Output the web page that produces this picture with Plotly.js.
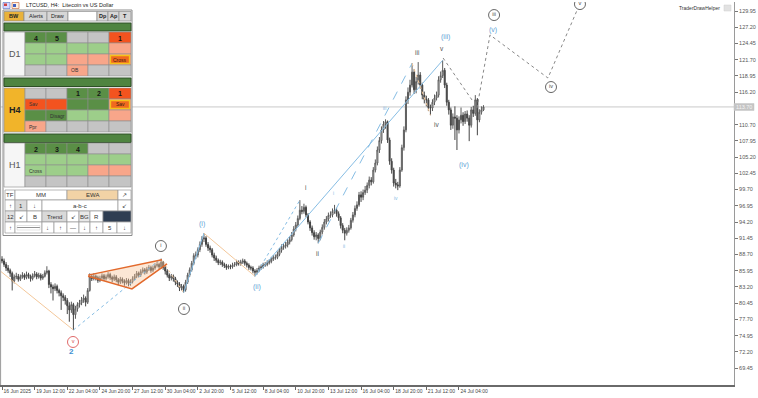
<!DOCTYPE html>
<html><head><meta charset="utf-8">
<script src="https://cdn.plot.ly/plotly-3.0.1.min.js"></script>
<style>html,body{margin:0;padding:0;background:#fff;overflow:hidden}#chart{width:758px;height:398px}</style>
</head><body><div id="chart"></div>
<script>
// ---------- DATA ----------
const firstOpen = 87.9;
const closes = [
87.6,87.0,86.4,86.0,85.5,84.2,84.9,85.0,84.5,84.9,
85.2,84.8,85.3,85.0,84.6,85.1,85.4,84.9,85.2,84.7,
85.0,85.6,85.9,83.6,83.2,82.9,83.3,82.6,82.2,81.7,
81.4,80.9,80.0,79.3,80.2,78.5,79.5,80.2,80.5,81.0,
81.3,80.6,82.6,85.0,84.6,85.0,84.8,84.3,84.7,85.1,
84.6,84.9,85.3,84.8,84.5,84.9,84.4,84.0,84.5,84.2,
83.9,84.3,83.8,84.1,84.6,85.0,85.5,85.2,85.8,86.1,
85.7,86.2,86.5,86.0,86.4,86.8,87.0,86.6,87.4,86.5,
85.9,85.2,84.7,85.0,84.6,84.0,83.7,83.0,83.3,82.7,
84.0,85.2,86.1,87.2,88.5,88.6,89.5,90.4,91.3,91.5,
90.4,89.8,89.5,88.6,88.1,87.7,87.3,87.4,87.0,86.8,
86.5,86.7,86.6,86.9,87.0,87.4,87.1,87.4,87.6,87.2,
86.9,86.5,86.4,85.9,85.7,86.0,86.4,86.6,86.9,87.0,
87.3,87.5,87.9,88.2,88.2,88.7,89.4,89.9,90.1,90.3,
90.8,91.2,92.0,93.0,93.7,94.8,96.2,96.0,96.7,95.4,
94.2,93.2,92.4,91.7,92.0,91.4,92.5,93.3,94.2,94.7,
95.3,95.4,96.0,96.2,95.6,94.9,93.6,92.8,92.3,92.8,
93.2,94.5,95.4,96.5,97.1,98.8,98.4,99.2,99.6,100.4,
101.3,101.0,103.0,104.2,106.4,108.0,109.8,110.8,111.2,108.1,
104.5,103.0,100.8,100.5,100.3,103.0,106.8,109.8,114.9,116.2,
117.4,119.6,116.6,118.0,119.1,117.4,115.7,115.0,114.9,113.6,
113.5,114.5,115.2,115.7,118.3,119.0,119.9,117.4,114.5,113.2,
110.6,112.0,111.8,109.8,111.5,112.3,111.2,112.5,111.8,110.6,
113.2,112.6,114.9,111.5,112.8,113.2,113.7];
const highs = [
88.4,88.0,87.4,86.9,86.3,85.8,85.3,85.6,85.4,85.3,
85.7,85.5,85.8,85.6,85.3,85.5,85.9,85.7,85.6,85.5,
85.4,86.0,86.7,86.1,84.0,83.6,83.8,83.6,82.9,82.6,
82.1,81.8,81.3,80.6,80.7,80.5,80.0,80.6,81.0,81.5,
81.9,81.6,83.0,85.5,85.4,85.5,85.3,85.1,85.1,85.5,
85.4,85.3,85.7,85.6,85.1,85.3,85.2,84.7,84.9,84.8,
84.5,84.7,84.6,84.5,85.0,85.4,85.9,85.8,86.2,86.5,
86.4,86.6,86.9,86.8,86.8,87.2,87.5,87.3,88.0,87.6,
86.8,86.2,85.5,85.4,85.3,84.9,84.3,84.0,83.7,83.6,
84.4,85.6,86.5,87.6,88.9,89.2,89.9,90.9,91.8,92.3,
91.8,90.8,90.2,89.8,89.0,88.5,88.0,87.8,87.7,87.3,
87.1,87.0,87.0,87.3,87.4,87.8,87.7,87.8,88.0,87.9,
87.5,87.2,86.8,86.7,86.2,86.4,86.8,87.0,87.3,87.4,
87.7,87.9,88.3,88.6,88.7,89.2,89.8,90.4,90.6,90.8,
91.3,91.7,92.5,93.5,94.2,95.3,97.9,96.9,97.3,97.0,
95.7,94.5,93.6,92.8,92.5,92.3,92.9,93.8,94.7,95.2,
95.8,96.0,96.5,97.1,96.6,96.0,95.2,94.0,93.2,93.3,
93.7,94.9,95.9,97.0,97.7,99.3,99.4,99.7,100.3,100.9,
101.9,101.8,103.5,104.8,107.0,108.6,110.4,111.3,111.6,111.4,
108.5,105.0,103.4,101.5,101.0,103.5,107.3,110.4,115.5,117.0,
118.3,121.1,120.1,118.8,121.3,119.6,117.8,116.3,115.6,115.2,
114.1,115.0,115.8,116.3,118.9,119.7,121.6,120.3,117.8,114.9,
113.6,112.6,113.8,112.3,112.1,113.6,112.8,113.0,113.1,112.3,
113.7,113.9,115.7,115.2,113.3,113.8,114.0];
const lows = [
87.2,86.6,85.9,85.6,84.9,82.6,83.8,84.5,84.1,84.2,
84.6,84.4,84.5,84.6,84.1,84.3,84.8,84.5,84.6,84.3,
84.4,84.8,85.3,83.0,82.1,80.9,82.5,82.1,81.6,79.3,
80.8,80.2,78.6,77.3,78.8,75.9,77.8,79.0,79.7,80.1,
80.5,79.9,80.3,82.4,84.2,84.3,84.3,83.9,84.0,84.4,
84.2,84.3,84.6,84.4,84.0,84.2,84.0,83.5,83.7,83.8,
83.4,83.6,83.3,83.4,83.8,84.3,84.7,84.8,84.9,85.5,
85.3,85.4,85.9,85.6,85.7,86.1,86.5,86.2,86.3,86.1,
85.3,84.8,84.2,84.3,84.1,83.5,83.2,82.5,82.6,82.2,
82.4,83.7,84.9,85.8,86.9,87.9,88.2,89.1,90.0,90.8,
90.0,89.3,89.0,88.2,87.6,87.3,86.9,86.9,86.6,86.4,
86.1,86.2,86.2,86.3,86.6,86.7,86.8,86.8,87.1,86.8,
86.5,86.1,86.0,85.5,85.0,85.3,85.7,86.1,86.3,86.6,
86.7,87.0,87.2,87.6,87.8,87.9,88.4,89.0,89.5,89.7,
89.9,90.4,90.9,91.7,92.6,93.4,94.5,95.5,95.6,95.0,
93.8,92.7,91.9,91.2,91.1,90.6,91.1,92.1,92.9,93.8,
94.3,94.9,95.0,95.6,95.1,94.4,93.1,92.3,91.1,91.9,
92.4,92.9,94.1,95.0,96.1,96.8,97.6,97.9,98.8,99.1,
99.9,100.4,100.7,102.6,103.8,105.9,107.5,109.3,110.0,107.6,
103.9,102.4,100.2,99.9,99.6,100.0,102.7,106.3,109.4,114.2,
115.6,117.0,115.9,116.0,117.5,116.8,115.0,114.3,113.8,113.0,
112.3,113.0,114.0,114.8,115.3,117.8,118.6,116.9,113.9,112.4,
109.8,110.0,108.1,106.4,109.2,110.9,110.5,110.8,111.2,107.9,
110.2,112.0,112.2,108.9,111.1,112.4,113.0];

const timeTickBars = [0,16,32,48,64,80,96,112,128,144,160,176,192,208,224];
const timeTickLabels = ["16 Jun 2025","19 Jun 12:00","22 Jun 04:00","24 Jun 20:00","27 Jun 12:00","30 Jun 04:00","2 Jul 20:00","5 Jul 12:00","8 Jul 04:00","10 Jul 20:00","13 Jul 12:00","16 Jul 04:00","18 Jul 20:00","21 Jul 12:00","24 Jul 04:00"];
const priceTicks = [69.45,72.20,74.95,77.70,80.45,83.20,85.95,88.70,91.45,94.20,96.95,99.70,102.45,105.20,107.95,110.70,113.45,116.20,118.95,121.70,124.45,127.20,129.95];

// wave labels
const blueWaveText = ["(i)","(ii)","(iii)","(iv)","(v)"];
const blueWaveBar = [98.0,125.0,217.2,226.5,240.7];
const blueWavePrice = [93.86,83.19,125.54,103.85,126.73];
const grayWaveText = ["i","ii","iii","iv","v"];
const grayWaveBar = [149.0,154.4,203.4,213.2,215.7];
const grayWavePrice = [100.13,88.78,123.0,110.8,123.68];
const smallWaveText = ["i","ii","iii","iv"];
const smallWaveBar = [162.7,167.6,187.7,193.1];
const smallWavePrice = [99.11,90.13,113.51,98.26];
const circleText = ["i","ii","iii","iv","v"];
const circleBar = [77.9,89.2,241.2,269.1,283.3];
const circlePrice = [90.13,79.46,129.27,117.07,131.13];
const redCircleBar = [34.8];
const redCirclePrice = [73.87];
const cycleNumberBar = [34.3];
const cycleNumberPrice = [72.18];

// drawn lines (bar index, price)
const startLegBars = [-0.5,35], startLegPrices = [85.8,75.9];
const wave5DotBars = [35,78], wave5DotPrices = [75.9,88.0];
const wedgeTopBars = [42.2,78.4], wedgeTopPrices = [85.2,87.8];
const wedgeBotBars = [42.2,63.7,80.9], wedgeBotPrices = [85.0,82.85,87.1];
const wedgeFillBars = [42.2,78.4,80.9,63.7,42.2], wedgeFillPrices = [85.2,87.8,87.1,82.85,85.0];
const wave2DotBars = [80,89], wave2DotPrices = [86.9,82.2];
const waveIBars = [89,99], waveIPrices = [82.2,92.3];
const waveIIBars = [99,124], waveIIPrices = [92.3,85.0];
const channelBars = [124,216], channelPrices = [85.0,121.6];
const subIDotBars = [124,146], subIDotPrices = [85.0,97.9];
const subIIIDashBars = [155,201], subIIIDashPrices = [90.6,121.1];
const subIVDotBars = [201,210], subIVDotPrices = [121.1,112.3];
const waveIVDashBars = [216.2,230.4], waveIVDashPrices = [121.99,114.87];
const projBars = [232.8,239.2,267.6,285.5], projPrices = [113.5,125.9,118.6,133.0];

// ---------- BUILD ----------
const idx = closes.map((_, i) => i);
const opens = closes.map((c, i) => i === 0 ? firstOpen : closes[i-1]);
const lastClose = closes[closes.length-1];

const BLUE = '#5d9fd6', LBLUE = '#86bde4', GRAY = '#555', DORANGE = '#e2692c', LORANGE = '#f3c79a';
function line(xs, ys, color, dash, width){
  return {type:'scatter', mode:'lines', x:xs, y:ys, line:{color, dash:dash||'solid', width:width||1}, hoverinfo:'skip', cliponaxis:true};
}
const traces = [];
traces.push({type:'scatter', mode:'lines', x:wedgeFillBars, y:wedgeFillPrices, fill:'toself', fillcolor:'rgba(248,196,150,0.4)', line:{width:0}, hoverinfo:'skip'});
traces.push(line(startLegBars, startLegPrices, LORANGE));
traces.push(line(wave5DotBars, wave5DotPrices, LBLUE, 'dot'));
traces.push(line(wave2DotBars, wave2DotPrices, LORANGE, 'dot'));
traces.push(line(waveIBars, waveIPrices, LBLUE));
traces.push(line(waveIIBars, waveIIPrices, LORANGE));
traces.push(line(channelBars, channelPrices, LBLUE));
traces.push(line(subIDotBars, subIDotPrices, LBLUE, 'dot'));
traces.push(line(subIIIDashBars, subIIIDashPrices, LBLUE, 'dash'));
traces.push(line(subIVDotBars, subIVDotPrices, LORANGE, 'dot'));
traces.push(line(waveIVDashBars, waveIVDashPrices, '#888', 'dot'));
traces.push(line(projBars, projPrices, '#888', 'dot'));
traces.push({type:'candlestick', x:idx, open:opens, high:highs, low:lows, close:closes,
  increasing:{line:{color:'#5a5a5a', width:1}, fillcolor:'#f4f4f4'},
  decreasing:{line:{color:'#444', width:1}, fillcolor:'#444'},
  whiskerwidth:0, hoverinfo:'skip'});
traces.push(line(wedgeTopBars, wedgeTopPrices, DORANGE, 'solid', 1.5));
traces.push(line(wedgeBotBars, wedgeBotPrices, DORANGE, 'solid', 1.5));
traces.push({type:'scatter', mode:'markers+text', x:circleBar, y:circlePrice, text:circleText, textposition:'middle center',
  textfont:{size:5.5, color:'#444', family:'Liberation Sans'}, marker:{symbol:'circle', size:11, color:'#fff', line:{color:'#666', width:1}}, hoverinfo:'skip'});
traces.push({type:'scatter', mode:'markers+text', x:redCircleBar, y:redCirclePrice, text:['v'], textposition:'middle center',
  textfont:{size:5.5, color:'#d04848', family:'Liberation Sans'}, marker:{symbol:'circle', size:11, color:'#fff', line:{color:'#e06a6a', width:1}}, hoverinfo:'skip'});

const annotations = [];
function dataText(x, y, t, size, color, bold){
  annotations.push({xref:'x', yref:'y', x, y, text: bold?'<b>'+t+'</b>':t, showarrow:false, font:{size, color, family:'Liberation Sans, Arial, sans-serif'}, xanchor:'center', yanchor:'middle'});
}
blueWaveText.forEach((t,i)=>dataText(blueWaveBar[i], blueWavePrice[i], t, 7, BLUE));
grayWaveText.forEach((t,i)=>dataText(grayWaveBar[i], grayWavePrice[i], t, 6.5, GRAY));
smallWaveText.forEach((t,i)=>dataText(smallWaveBar[i], smallWavePrice[i], t, 5, LBLUE));
dataText(cycleNumberBar[0], cycleNumberPrice[0], '2', 8, '#3d8fd1', true);

// pixel helpers for chrome
const PW = 734, PT = 2, PB = 385;
const px = x => x / PW;
const py = y => (PB - y) / (PB - PT);
const shapes = [];
function rect(x0,y0,x1,y1,fill,lineColor,lw,layer){
  shapes.push({type:'rect', xref:'paper', yref:'paper', x0:px(x0), x1:px(x1), y0:py(y1), y1:py(y0),
    fillcolor:fill, line:{color:lineColor||'rgba(0,0,0,0)', width:lw==null?0.7:lw}, layer:layer||'above'});
}
function seg(x0,y0,x1,y1,color,w,layer){
  shapes.push({type:'line', xref:'paper', yref:'paper', x0:px(x0), x1:px(x1), y0:py(y0), y1:py(y1), line:{color, width:w||1}, layer:layer||'above'});
}
function ptext(x,y,t,size,color,bold,anchor){
  annotations.push({xref:'paper', yref:'paper', x:px(x), y:py(y), text: bold?'<b>'+t+'</b>':t, showarrow:false,
    font:{size, color, family:'Liberation Sans, Arial, sans-serif'}, xanchor:anchor||'center', yanchor:'middle'});
}

// current price line and price box (box replaces the tick label underneath it)
shapes.push({type:'line', xref:'paper', yref:'y', x0:0, x1:1, y0:lastClose, y1:lastClose, line:{color:'#c9c9c9', width:1}, layer:'below'});
rect(734,103.5,754,110.5,'#c4c4c4','#c4c4c4',0.5);
ptext(744,107,lastClose.toFixed(2),5.5,'#f4f4f4');
const priceTickText = priceTicks.map(v => Math.abs(v - lastClose) < 1 ? '' : v.toFixed(2));

// left frame line
seg(0.6,0,0.6,385,'#9a9a9a',1);

// title bar
rect(3,2.5,10,8.5,'#d8d8ff','#5070c0',0.6);
rect(4,3.5,7,6,'#d04040',null,0);
rect(12,2.5,19,8.5,'#fff0e0','#c06030',0.6);
rect(13,4,16,7,'#4060c0',null,0);
ptext(24,5.5,'LTCUSD, H4:  Litecoin vs US Dollar',5.5,'#222',false,'left');
ptext(722,8,'TraderDrawHelper',5,'#333',false,'right');
rect(724,5,731,11,'#e2e2e2','#cfcfcf',0.5);

// ---------- PANEL ----------
const panelPalette = {G:'#5a8f46', L:'#9dce8a', S:'#f8a68a', R:'#f3531f', Y:'#c4c4c4', X:'#f0691f'};
const d1Cells = ['GGYYR','LLLLS','LLSSX','YYSYY'];
const d1Texts = [['4','5','','','1'],['','','','',''],['','','','','Cross'],['','','OB','','']];
const h4Cells = ['YYGGR','RRGGX','GGLLS','SYYYY'];
const h4Texts = [['','','1','2','1'],['Sav','','','','Sav'],['','Disagr','','',''],['Ppr','','','','']];
const h1Cells = ['GGGYY','LLLLL','LLLSS','YYYYY'];
const h1Texts = [['2','3','4','',''],['','','','',''],['Cross','','','',''],['','','','','']];

rect(3,10,132,235.5,'#ffffff','#8c8c8c',1);
const topButtons = [[4,24,'BW','#e9b23a',true],[24,47,'Alerts','#d6d6d6',false],[47,68,'Draw','#d6d6d6',false],[68,97,'','#ffffff',false],[97,108,'Dp','#d6d6d6',true],[108,119,'Ap','#d6d6d6',true],[119,131,'T','#d6d6d6',true]];
topButtons.forEach(b=>{ rect(b[0],11.5,b[1],21,b[3],'#8a8a8a',0.7); if(b[2]) ptext((b[0]+b[1])/2,16.3,b[2],5.5,'#222',b[4]); });

const colX = [25,46,67,88,109,131];
function section(hy0, hy1, rowY, cells, texts, lab, labBg, labColor, labBold){
  rect(4,hy0,131,hy1,'#4f8440','#2e4f26',1);
  rect(4,rowY[0],25,rowY[4],labBg,'#9a9a9a',0.7);
  ptext(14.5,(rowY[0]+rowY[4])/2,lab,9,labColor,labBold);
  for(let r=0;r<4;r++){
    for(let c=0;c<5;c++){
      const code = cells[r][c];
      const x0=colX[c], x1=colX[c+1], y0=rowY[r], y1=rowY[r+1];
      if(code==='X'){
        rect(x0,y0,x1,y1,panelPalette.S,'#8d8d8d',0.6);
        rect(x0+1.5,y0+1.5,x1-1.5,y1-1.5,panelPalette.X,'#f5c21b',1.3);
      } else {
        rect(x0,y0,x1,y1,panelPalette[code],'#8d8d8d',0.6);
      }
      const t = texts[r][c];
      if(t){
        if(t.length===1) ptext((x0+x1)/2,(y0+y1)/2+0.5,t,7,'#151515',true);
        else if(code==='X') ptext((x0+x1)/2,(y0+y1)/2,t,5,'#3a1a10');
        else ptext(x0+1.5,(y0+y1)/2,t,5,'#333',false,'left');
      }
    }
  }
}
section(23,31,[32,43,54,65,76],d1Cells,d1Texts,'D1','#f6f6f6','#555',false);
section(78,86.5,[88,99,110,121,132],h4Cells,h4Texts,'H4','#f1b42a','#222',true);
section(134,142.5,[143,154,165,176,187],h1Cells,h1Texts,'H1','#f6f6f6','#555',false);

const btnRows = [
 {y0:190,y1:200,cells:[[5,15,'TF','#fff'],[15,67,'MM','#fff'],[67,118,'EWA','#f2d3a6'],[118,131,'↗','#fff']]},
 {y0:200,y1:211,cells:[[5,15,'↑','#fff'],[15,27,'1','#dadada'],[27,42,'↓','#fff'],[42,118,'a-b-c','#fff'],[118,131,'↙','#fff']]},
 {y0:211,y1:222,cells:[[5,15,'12','#e2e2e2'],[15,27,'↙','#fff'],[27,42,'B','#fff'],[42,67,'Trend','#d9d9d9'],[67,79,'↙','#fff'],[79,90,'BG','#e8e8e8'],[90,103,'R','#fff'],[103,131,'','#2f3e52']]},
 {y0:222,y1:233,cells:[[5,15,'↑','#fff'],[15,42,'','#fff'],[42,54,'↓','#fff'],[54,67,'↑','#fff'],[67,79,'—','#fff'],[79,90,'↓','#fff'],[90,103,'↑','#fff'],[103,117,'5','#fff'],[117,131,'↓','#fff']]}
];
btnRows.forEach(row=>row.cells.forEach(c=>{
  rect(c[0],row.y0,c[1],row.y1,c[3],'#9a9a9a',0.7);
  if(c[2]) ptext((c[0]+c[1])/2,(row.y0+row.y1)/2+0.3,c[2],6,'#333');
}));
seg(17,227.5,40,227.5,'#777',0.8);
rect(17,225.5,40,230,'rgba(0,0,0,0)','#c8c8c8',0.5);

// ---------- LAYOUT ----------
const layout = {
  width:758, height:398,
  margin:{l:0, r:24, t:2, b:13, pad:0},
  paper_bgcolor:'#ffffff', plot_bgcolor:'#ffffff',
  showlegend:false,
  font:{family:'Liberation Sans, Arial, sans-serif', size:6, color:'#444'},
  xaxis:{range:[-0.98,358.8], rangeslider:{visible:false}, tickmode:'array', tickvals:timeTickBars, ticktext:timeTickLabels,
    ticks:'outside', ticklen:3, tickcolor:'#666', tickwidth:1, tickangle:0, tickfont:{size:5, color:'#444'}, ticklabelposition:'outside right',
    showgrid:false, zeroline:false, showline:true, linecolor:'#6a6a6a', linewidth:2, automargin:false, fixedrange:true},
  yaxis:{range:[66.58,131.48], side:'right', tickmode:'array', tickvals:priceTicks, ticktext:priceTickText,
    ticks:'outside', ticklen:3, tickcolor:'#777', tickwidth:1, tickfont:{size:5.5, color:'#555'},
    showgrid:false, zeroline:false, showline:true, linecolor:'#9a9a9a', linewidth:1, automargin:false, fixedrange:true},
  shapes, annotations
};
Plotly.newPlot('chart', traces, layout, {displayModeBar:false, staticPlot:true});
</script></body></html>
